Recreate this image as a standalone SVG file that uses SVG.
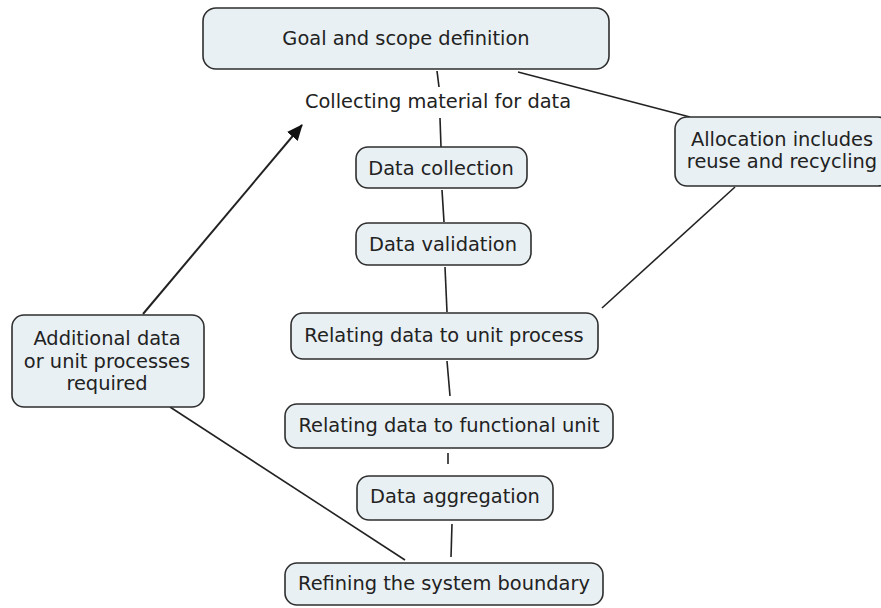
<svg xmlns="http://www.w3.org/2000/svg" width="881" height="608" viewBox="0 0 881 608">
<style>
.n{fill:#e8f0f3;stroke:#2e2e2e;stroke-width:1.6}
.t{font-family:"DejaVu Sans",Verdana,sans-serif;font-size:19.4px;fill:#222;text-anchor:middle}
.c{stroke:#222;stroke-width:1.6;fill:none}
</style>
<defs>
<marker id="ah" markerWidth="16" markerHeight="14" refX="15" refY="7" orient="auto" markerUnits="userSpaceOnUse" viewBox="0 0 16 14">
<path d="M0,0 L16,7 L0,14 z" fill="#111"/>
</marker>
</defs>
<rect width="881" height="608" fill="#fff"/>
<g id="connectors">
<line class="c" x1="437" y1="71" x2="439" y2="87"/>
<line class="c" x1="440" y1="118" x2="441" y2="147"/>
<line class="c" x1="442" y1="190" x2="444" y2="222"/>
<line class="c" x1="445" y1="267" x2="447" y2="312"/>
<line class="c" x1="447" y1="361" x2="450" y2="396"/>
<line class="c" x1="448" y1="453" x2="448" y2="464"/>
<line class="c" x1="452" y1="524" x2="451" y2="557"/>
<line class="c" x1="518" y1="72" x2="690" y2="117"/>
<line class="c" x1="735" y1="187" x2="602" y2="308"/>
<line class="c" x1="170" y1="407" x2="405" y2="560"/>
<line class="c" x1="143" y1="314" x2="302" y2="125" marker-end="url(#ah)" style="stroke-width:2"/>
</g>
<g id="goal">
<rect class="n" x="203" y="8" width="406" height="61" rx="13"/>
<text class="t" x="406" y="45">Goal and scope definition</text>
</g>
<g id="collecting">
<text class="t" x="438" y="108">Collecting material for data</text>
</g>
<g id="data-collection">
<rect class="n" x="356" y="147" width="171" height="41" rx="12"/>
<text class="t" x="441" y="175">Data collection</text>
</g>
<g id="data-validation">
<rect class="n" x="356" y="223" width="175" height="42" rx="12"/>
<text class="t" x="443" y="251">Data validation</text>
</g>
<g id="unit-process">
<rect class="n" x="291" y="313" width="307" height="46" rx="12"/>
<text class="t" x="444" y="342">Relating data to unit process</text>
</g>
<g id="functional-unit">
<rect class="n" x="285" y="404" width="328" height="44" rx="12"/>
<text class="t" x="449" y="432">Relating data to functional unit</text>
</g>
<g id="aggregation">
<rect class="n" x="357" y="476" width="196" height="44" rx="12"/>
<text class="t" x="455" y="503">Data aggregation</text>
</g>
<g id="refining">
<rect class="n" x="285" y="563" width="318" height="42" rx="12"/>
<text class="t" x="444" y="590">Refining the system boundary</text>
</g>
<g id="allocation">
<rect class="n" x="675" y="117" width="215" height="69" rx="12"/>
<text class="t" x="782" y="146">Allocation includes</text>
<text class="t" x="782" y="168">reuse and recycling</text>
</g>
<g id="additional">
<rect class="n" x="12" y="315" width="192" height="92" rx="12"/>
<text class="t" x="107" y="345">Additional data</text>
<text class="t" x="107" y="368">or unit processes</text>
<text class="t" x="107" y="390">required</text>
</g>
</svg>
